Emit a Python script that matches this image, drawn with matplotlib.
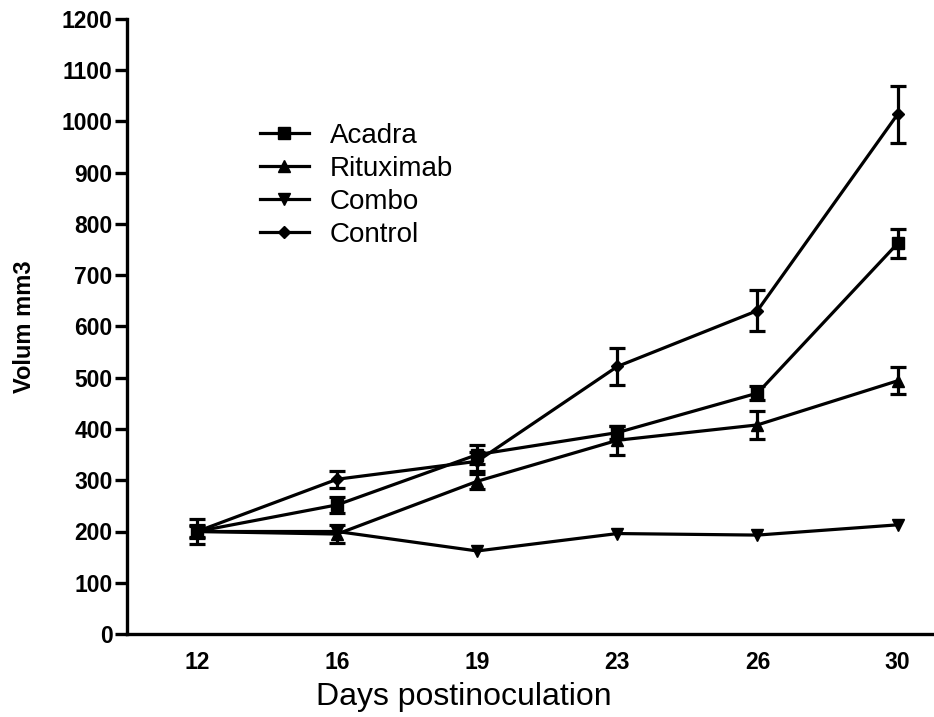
import matplotlib
matplotlib.use("Agg")
import matplotlib.pyplot as plt
from matplotlib.lines import Line2D

plt.rcParams['font.family'] = ['Liberation Sans', 'DejaVu Sans']

days = ["12", "16", "19", "23", "26", "30"]

acadra = [200, 252, 350, 393, 470, 762]
acadra_err = [24, 15, 19, 12, 13, 29]

rituximab = [200, 195, 298, 378, 408, 494]
rituximab_err = [10, 18, 15, 28, 27, 26]

combo = [200, 200, 162, 196, 193, 213]

control = [200, 302, 337, 522, 631, 1014]
control_err = [12, 17, 18, 36, 40, 55]

y_ticks = list(range(0, 1201, 100))

fig = plt.figure(figsize=(9.34, 7.17), dpi=100)
ax = fig.add_axes([127 / 934, 83 / 717, 807 / 934, 615 / 717])

x = list(range(len(days)))
lw = 2.3
common = dict(color="black", linewidth=lw, elinewidth=lw, capthick=lw, capsize=5.5)

ax.errorbar(x, acadra, yerr=acadra_err, marker="s", markersize=8, **common)
ax.errorbar(x, rituximab, yerr=rituximab_err, marker="^", markersize=8.5, **common)
ax.plot(x, combo, color="black", linewidth=lw, marker="v", markersize=8.5)
ax.errorbar(x, control, yerr=control_err, marker="D", markersize=6.5, **common)

ax.set_xlim(-0.5, 5.26)
ax.set_ylim(0, 1200)
ax.set_xticks(x)
ax.set_xticklabels(days)
ax.set_yticks(y_ticks)

for side in ("top", "right"):
    ax.spines[side].set_visible(False)
for side in ("left", "bottom"):
    ax.spines[side].set_linewidth(2.4)

ax.tick_params(axis="y", length=9, width=2.4, pad=1.5, labelsize=16.5)
ax.tick_params(axis="x", length=0, pad=12, labelsize=16.5)
for lab in ax.get_xticklabels() + ax.get_yticklabels():
    lab.set_fontweight("bold")

fig.text(25 / 934, 1 - 327 / 717, "Volum mm3", rotation=90, ha="center", va="center",
         fontsize=17, fontweight="bold")
fig.text(464 / 934, 1 - 705 / 717, "Days postinoculation", ha="center", va="baseline",
         fontsize=23)

handles = [
    Line2D([], [], color="black", linewidth=lw, marker="s", markersize=8),
    Line2D([], [], color="black", linewidth=lw, marker="^", markersize=8.5),
    Line2D([], [], color="black", linewidth=lw, marker="v", markersize=8.5),
    Line2D([], [], color="black", linewidth=lw, marker="D", markersize=6.5),
]
labels = ["Acadra", "Rituximab", "Combo", "Control"]
ax.legend(handles, labels, loc="upper left", bbox_to_anchor=(260 / 934, 1 - 123 / 717),
          bbox_transform=fig.transFigure, frameon=False, fontsize=20,
          handlelength=1.75, handletextpad=0.75, labelspacing=0.25, borderpad=0,
          borderaxespad=0)

fig.savefig("out.png", dpi=100)
